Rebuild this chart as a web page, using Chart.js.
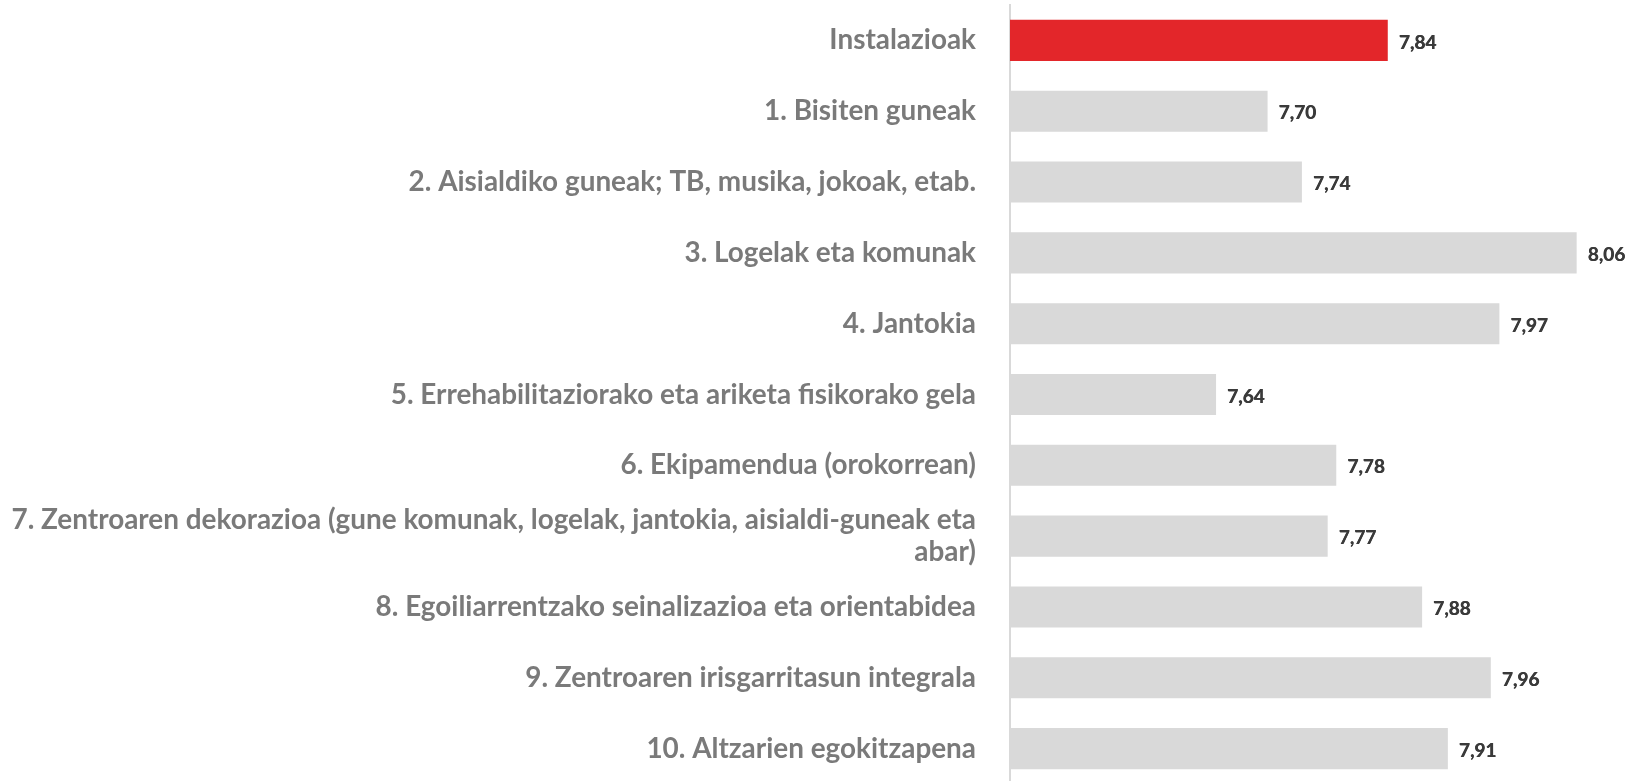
<!DOCTYPE html>
<html>
<head>
<meta charset="utf-8">
<script src="https://cdn.jsdelivr.net/npm/chart.js@4.4.0/dist/chart.umd.min.js"></script>
<style>
  html, body { margin: 0; padding: 0; background: #ffffff; overflow: hidden; }
  #wrap { position: relative; width: 1631px; height: 784px; }
</style>
</head>
<body>
<div id="wrap"><canvas id="c"></canvas></div>
<script>
const categories = [
  "Instalazioak",
  "1. Bisiten guneak",
  "2. Aisialdiko guneak; TB, musika, jokoak, etab.",
  "3. Logelak eta komunak",
  "4. Jantokia",
  "5. Errehabilitaziorako eta ariketa fisikorako gela",
  "6. Ekipamendua (orokorrean)",
  ["7. Zentroaren dekorazioa (gune komunak, logelak, jantokia, aisialdi-guneak eta", "abar)"],
  "8. Egoiliarrentzako seinalizazioa eta orientabidea",
  "9. Zentroaren irisgarritasun integrala",
  "10. Altzarien egokitzapena"
];
const values = [7.84, 7.70, 7.74, 8.06, 7.97, 7.64, 7.78, 7.77, 7.88, 7.96, 7.91];
const axisMin = 7.4;
const axisMax = 8.1;

const FONT = "Lato";
// size fonts so widths match the reference text widths
const mctx = document.createElement('canvas').getContext('2d');
mctx.font = "bold 100px " + FONT;
const longW = mctx.measureText(categories[7][0]).width;
const labelSize = Math.round(100 * 966 / longW * 10) / 10;
const valW = mctx.measureText("7,84").width;
const valueSize = Math.round(100 * 37 / valW);

const valueLabels = {
  id: 'valueLabels',
  afterDatasetsDraw(chart) {
    const ctx = chart.ctx;
    const meta = chart.getDatasetMeta(0);
    ctx.save();
    ctx.font = "bold " + valueSize + "px " + FONT;
    ctx.fillStyle = "#3A3A3A";
    ctx.textAlign = "left";
    ctx.textBaseline = "middle";
    meta.data.forEach((bar, i) => {
      const v = chart.data.datasets[0].data[i];
      const t = v.toFixed(2).replace('.', ',');
      ctx.fillText(t, bar.x + 11, bar.y + 2);
      ctx.fillText(t, bar.x + 11.4, bar.y + 2);
    });
    ctx.restore();
  }
};

new Chart(document.getElementById('c'), {
  type: 'bar',
  data: {
    labels: categories,
    datasets: [{
      data: values,
      backgroundColor: values.map((v, i) => i === 0 ? '#E3262A' : '#D9D9D9'),
      borderWidth: 0,
      categoryPercentage: 1.0,
      barPercentage: 0.58
    }]
  },
  options: {
    indexAxis: 'y',
    responsive: true,
    maintainAspectRatio: false,
    animation: false,
    layout: { padding: { left: 0, right: 20, top: 5, bottom: 0 } },
    plugins: {
      legend: { display: false },
      tooltip: { enabled: false }
    },
    scales: {
      x: {
        display: false,
        min: axisMin,
        max: axisMax
      },
      y: {
        afterFit(scale) {
          scale.width = 1010;
          scale.paddingTop = 0;
          scale.paddingBottom = 0;
        },
        grid: { display: false, drawTicks: false },
        border: { display: true, color: '#D9D9D9', width: 2 },
        ticks: {
          color: '#7A7A7A',
          padding: 34,
          font: { family: FONT, weight: 'bold', size: labelSize, lineHeight: 1.15 }
        }
      }
    }
  },
  plugins: [valueLabels]
});
</script>
</body>
</html>
